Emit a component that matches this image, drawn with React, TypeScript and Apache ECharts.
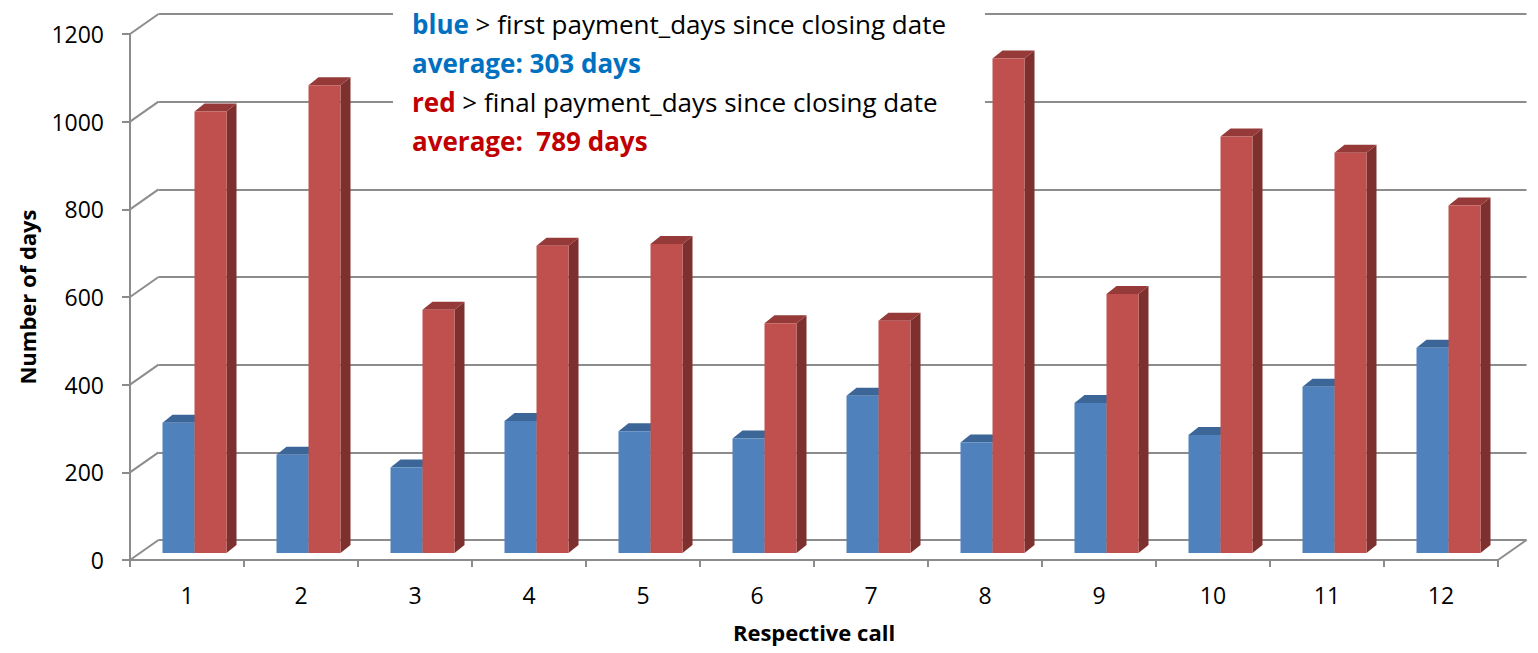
import React, { useEffect, useRef } from "react";
import * as echarts from "echarts";

const categories = ["1", "2", "3", "4", "5", "6", "7", "8", "9", "10", "11", "12"];
const firstPayment = [297, 224, 195, 301, 278, 261, 359, 252, 342, 269, 379, 468];
const finalPayment = [1007, 1067, 555, 701, 705, 524, 530, 1128, 591, 950, 913, 793];
const yTicks = [0, 200, 400, 600, 800, 1000, 1200];
const yMin = 0;
const yMax = 1200;
const yStep = 200;

const FONT = "Open Sans";
const GRID_COLOR = "#8c8c8c";

// depth offsets (styling constants)
const WALL_DX = 28.5;
const WALL_DY = 20;
const BAR_W = 32;
const BAR_OFF = 7.5;
const BAR_LIFT = 7;
const BAR_DX = 10;
const BAR_DY = 8;

const palettes = [
  { front: "#4f81bd", top: "#3c6697", side: "#2f5480" },
  { front: "#c0504d", top: "#953a38", side: "#7d302e" },
];

function barRenderer(s: number) {
  return (params: any, api: any) => {
    const idx = api.value(0);
    const v = api.value(1);
    const c = api.coord([idx, v]);
    const z = api.coord([idx, 0]);
    const pal = palettes[s];
    const x0 = c[0] + BAR_OFF - BAR_W + s * BAR_W;
    const top = c[1] - BAR_LIFT;
    const base = z[1] - BAR_LIFT;
    const x1 = x0 + BAR_W;
    return {
      type: "group",
      children: [
        {
          type: "polygon",
          shape: {
            points: [
              [x1, top],
              [x1 + BAR_DX, top - BAR_DY],
              [x1 + BAR_DX, base - BAR_DY],
              [x1, base],
            ],
          },
          style: { fill: pal.side },
        },
        {
          type: "polygon",
          shape: {
            points: [
              [x0, top],
              [x0 + BAR_DX, top - BAR_DY],
              [x1 + BAR_DX, top - BAR_DY],
              [x1, top],
            ],
          },
          style: { fill: pal.top },
        },
        {
          type: "rect",
          shape: { x: x0, y: top, width: BAR_W, height: base - top },
          style: { fill: pal.front },
        },
      ],
    };
  };
}

function wallRenderer(params: any, api: any) {
  const v = api.value(1);
  const p = api.coord([0, v]);
  const cs = params.coordSys;
  const left = cs.x;
  const right = cs.x + cs.width;
  const lineStyle = { stroke: GRID_COLOR, lineWidth: 2 };
  const children: any[] = [
    {
      type: "line",
      shape: { x1: left, y1: p[1], x2: left + WALL_DX, y2: p[1] - WALL_DY },
      style: lineStyle,
    },
  ];
  if (v === yMin) {
    children.push({
      type: "line",
      shape: { x1: right, y1: p[1], x2: right + WALL_DX, y2: p[1] - WALL_DY },
      style: lineStyle,
    });
  }
  return { type: "group", children };
}

export default function App() {
  const ref = useRef<HTMLDivElement>(null);

  useEffect(() => {
    if (!ref.current) return;
    const chart = echarts.init(ref.current, undefined, { renderer: "svg" });
    const option: any = {
      animation: false,
      backgroundColor: "#ffffff",
      textStyle: { fontFamily: FONT },
      grid: [
        { left: 130, right: 40, top: 34, bottom: 93 },
        { left: 130 + WALL_DX, right: 40 - WALL_DX, top: 34 - WALL_DY, bottom: 93 + WALL_DY },
      ],
      xAxis: [
        {
          type: "category",
          gridIndex: 0,
          data: categories,
          boundaryGap: true,
          name: "Respective call",
          nameLocation: "middle",
          nameGap: 61,
          nameTextStyle: { fontFamily: FONT, fontSize: 22, fontWeight: "bold", color: "#000" },
          axisLine: { show: true, lineStyle: { color: GRID_COLOR, width: 2 } },
          axisTick: { show: true, length: 7, lineStyle: { color: GRID_COLOR, width: 2 } },
          axisLabel: { fontFamily: FONT, fontSize: 23, color: "#000", margin: 23 },
          splitLine: { show: false },
        },
        {
          type: "category",
          gridIndex: 1,
          data: categories,
          show: false,
        },
      ],
      yAxis: [
        {
          type: "value",
          gridIndex: 0,
          min: yMin,
          max: yMax,
          interval: yStep,
          name: "Number of days",
          nameLocation: "middle",
          nameGap: 92,
          nameTextStyle: { fontFamily: FONT, fontSize: 22, fontWeight: "bold", color: "#000" },
          axisLine: { show: true, lineStyle: { color: GRID_COLOR, width: 2 } },
          axisTick: { show: true, length: 8, lineStyle: { color: GRID_COLOR, width: 2 } },
          axisLabel: {
            fontFamily: FONT,
            fontSize: 23,
            color: "#000",
            margin: 26,
            formatter: (v: number) => String(v),
          },
          splitLine: { show: false },
        },
        {
          type: "value",
          gridIndex: 1,
          min: yMin,
          max: yMax,
          interval: yStep,
          axisLine: { show: false },
          axisTick: { show: false },
          axisLabel: { show: false },
          splitLine: { show: true, lineStyle: { color: GRID_COLOR, width: 2 } },
        },
      ],
      series: [
        {
          type: "custom",
          name: "wall",
          xAxisIndex: 0,
          yAxisIndex: 0,
          renderItem: wallRenderer,
          data: yTicks.map((t) => [0, t]),
          encode: { x: 0, y: 1 },
          silent: true,
          z: 1,
        },
        {
          type: "custom",
          name: "first payment",
          xAxisIndex: 0,
          yAxisIndex: 0,
          renderItem: barRenderer(0),
          data: firstPayment.map((v, i) => [i, v]),
          encode: { x: 0, y: 1 },
          z: 3,
        },
        {
          type: "custom",
          name: "final payment",
          xAxisIndex: 0,
          yAxisIndex: 0,
          renderItem: barRenderer(1),
          data: finalPayment.map((v, i) => [i, v]),
          encode: { x: 0, y: 1 },
          z: 4,
        },
      ],
      graphic: [
        {
          type: "rect",
          z: 100,
          shape: { x: 393, y: 0, width: 592, height: 160 },
          style: { fill: "#ffffff" },
        },
        {
          type: "text",
          z: 101,
          x: 412,
          y: 4.5,
          style: {
            text:
              "{bb|blue}{n| > first payment_days since closing date}\n" +
              "{bb|average: 303 days}\n" +
              "{rb|red}{n| > final payment_days since closing date}\n" +
              "{rb|average:  789 days}",
            verticalAlign: "top",
            align: "left",
            fontFamily: FONT,
            fontSize: 26,
            lineHeight: 39,
            fill: "#000000",
            rich: {
              n: { fontFamily: FONT, fontSize: 26, fill: "#000000", lineHeight: 39 },
              bb: { fontFamily: FONT, fontSize: 26, fontWeight: "bold", fill: "#0070c0", lineHeight: 39 },
              rb: { fontFamily: FONT, fontSize: 26, fontWeight: "bold", fill: "#c00000", lineHeight: 39 },
            },
          },
        },
      ],
    };
    chart.setOption(option);
    return () => chart.dispose();
  }, []);

  return (
    <div
      ref={ref}
      style={{ position: "fixed", left: 0, top: 0, width: 1538, height: 653 }}
    />
  );
}
